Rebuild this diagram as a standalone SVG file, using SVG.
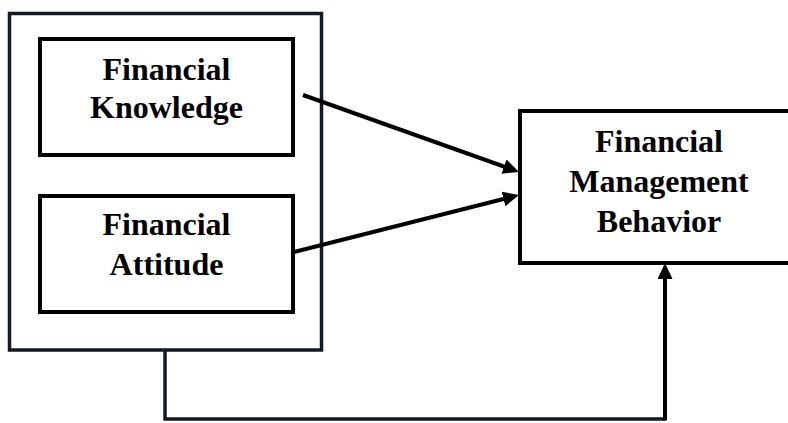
<svg xmlns="http://www.w3.org/2000/svg" width="788" height="423" viewBox="0 0 788 423">
<style>
.box{fill:#fff;stroke:#000;stroke-width:4}
.outer{fill:#fff;stroke:#141a24;stroke-width:3.5}
.lbl{font-family:"Liberation Serif","Times New Roman",serif;font-weight:bold;font-size:32px;fill:#000;text-anchor:middle}
.arr{fill:none;stroke:#000;stroke-width:4}
.conn{fill:none;stroke:#141a24;stroke-width:3.5}
</style>
<defs>
<marker id="ah" markerUnits="userSpaceOnUse" markerWidth="16" markerHeight="15" refX="6" refY="7.5" orient="auto" viewBox="0 0 16 15">
<path d="M0,0 L16,7.5 L0,15 z" fill="#000"/>
</marker>
</defs>
<rect width="788" height="423" fill="#fff"/>
<g id="outer-group">
<rect class="outer" x="9.5" y="13.5" width="312" height="336.5"/>
</g>
<g id="knowledge">
<rect class="box" x="40" y="39" width="253" height="116"/>
<text class="lbl" x="166.5" y="80">Financial</text>
<text class="lbl" x="166.5" y="118">Knowledge</text>
</g>
<g id="attitude">
<rect class="box" x="40" y="196" width="253" height="116"/>
<text class="lbl" x="166.5" y="235">Financial</text>
<text class="lbl" x="166.5" y="275">Attitude</text>
</g>
<g id="behavior">
<rect class="box" x="520" y="111" width="320" height="152"/>
<text class="lbl" x="659" y="152">Financial</text>
<text class="lbl" x="659" y="192">Management</text>
<text class="lbl" x="659" y="232">Behavior</text>
</g>
<g id="connectors">
<line class="arr" x1="303" y1="95" x2="509.6" y2="168.6" marker-end="url(#ah)"/>
<line class="arr" x1="294" y1="252" x2="509.3" y2="197.5" marker-end="url(#ah)"/>
<polyline class="conn" points="165,350 165,419 665,419"/>
<line class="arr" x1="665" y1="420.5" x2="665" y2="273" marker-end="url(#ah)"/>
</g>
</svg>
